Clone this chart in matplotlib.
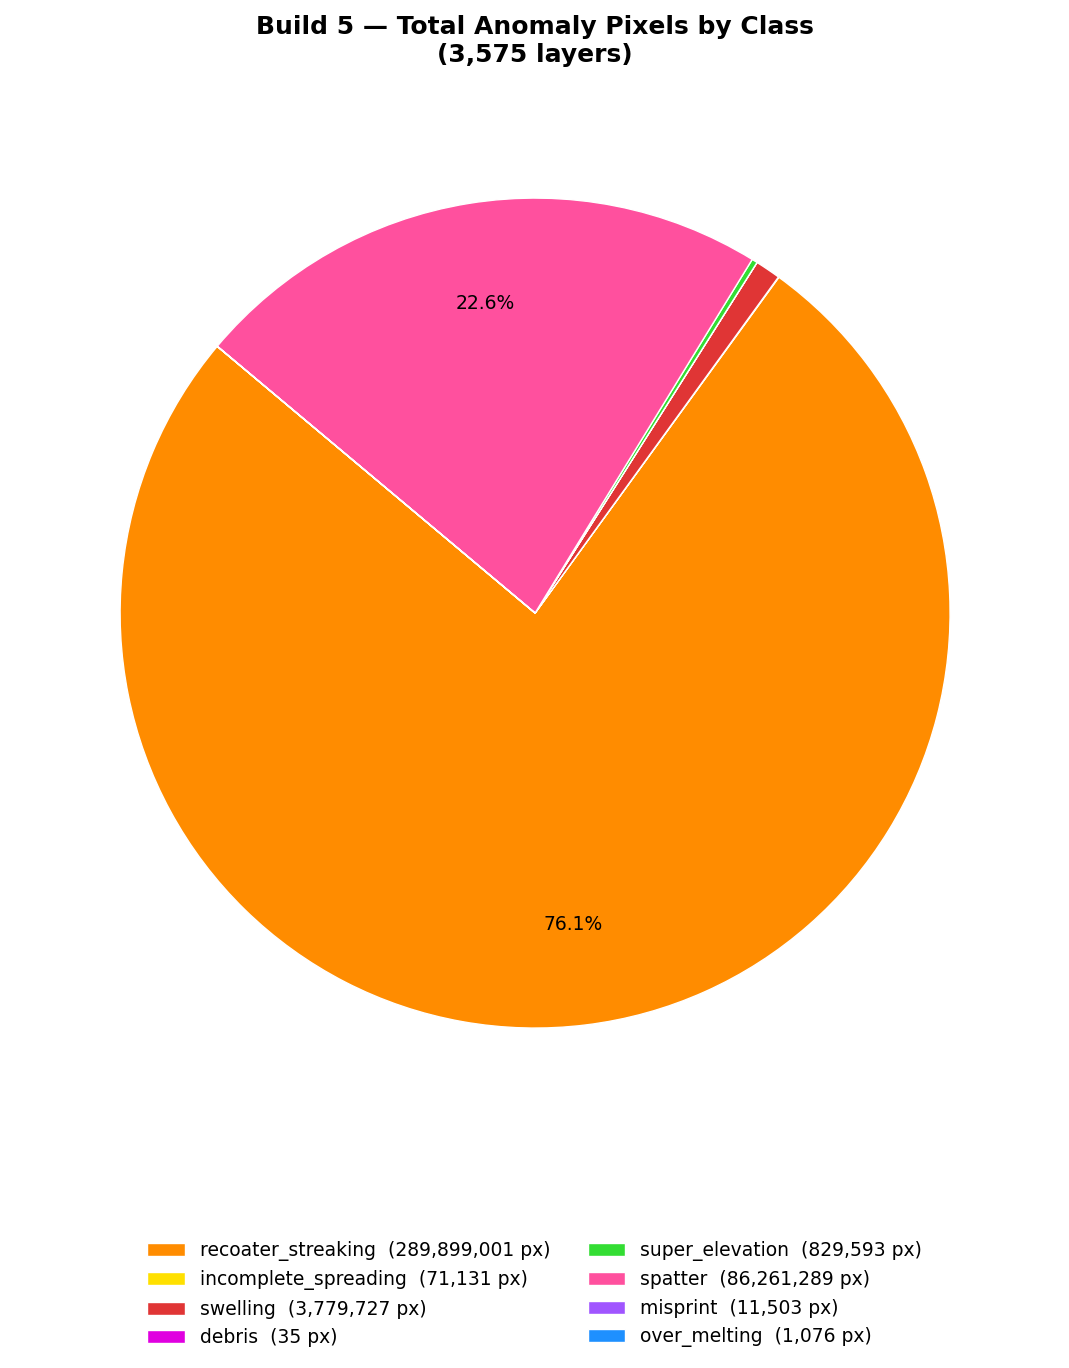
import matplotlib
matplotlib.use("Agg")
import matplotlib.pyplot as plt

# ----------------- Data -----------------
classes = ['recoater_streaking', 'incomplete_spreading', 'swelling', 'debris',
           'super_elevation', 'spatter', 'misprint', 'over_melting']
pixels = [289899001, 71131, 3779727, 35, 829593, 86261289, 11503, 1076]
colors = ['#FF8C00', '#FFE000', '#E03535', '#E000E0',
          '#33DD33', '#FF509E', '#A055FF', '#1E90FF']
n_layers = 3575

# ----------------- Plot -----------------
fig = plt.figure(figsize=(10.69, 13.68), dpi=100)
ax = fig.add_axes([0.1123, 0.2485, 0.7765, 0.6067])

def pct_label(p):
    return f'{p:.1f}%' if p > 3 else ''

wedges, _, autotexts = ax.pie(
    pixels, colors=colors, startangle=140, counterclock=True,
    autopct=pct_label, pctdistance=0.755,
    wedgeprops={'edgecolor': 'white', 'linewidth': 1},
    textprops={'fontsize': 13.5})
ax.set_xlim(-1, 1)
ax.set_ylim(-1, 1)
ax.set_aspect('equal')

fig.suptitle(f'Build 5 — Total Anomaly Pixels by Class\n({n_layers:,} layers)',
             fontsize=18, fontweight='bold', y=0.989)

labels = [f'{c}  ({v:,} px)' for c, v in zip(classes, pixels)]
fig.legend(wedges, labels, loc='lower center', bbox_to_anchor=(0.5, 0.003),
           ncol=2, frameon=False, fontsize=13.5, columnspacing=2.0)

fig.savefig('out.png', dpi=100)
